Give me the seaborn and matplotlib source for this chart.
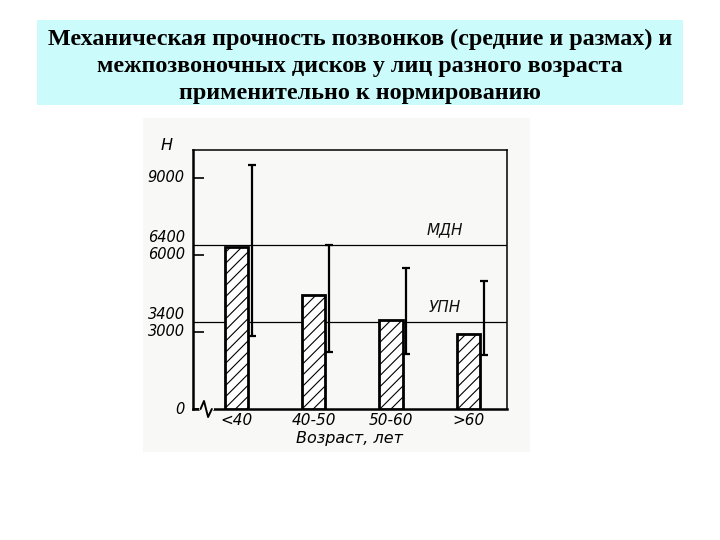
import numpy as np
import pandas as pd
import matplotlib
matplotlib.use("Agg")
import matplotlib.pyplot as plt
import seaborn as sns
from matplotlib.patches import Rectangle

# ---- data ----
title_lines = [
    "Механическая прочность позвонков (средние и размах) и",
    "межпозвоночных дисков у лиц разного возраста",
    "применительно к нормированию",
]
age_groups = ["<40", "40-50", "50-60", ">60"]
mean_strength = [6300, 4450, 3450, 2900]
range_low = [2850, 2200, 2150, 2100]
range_high = [9500, 6400, 5500, 5000]
norm_levels = [6400, 3400]
norm_labels = ["МДН", "УПН"]
y_ticks = [0, 3000, 6000, 9000]
y_extra_ticks = [3400, 6400]
x_label = "Возраст, лет"
y_unit = "Н"

sns.set_theme(style="white")
plt.rcParams["font.family"] = ["DejaVu Sans"]
plt.rcParams["hatch.linewidth"] = 0.8

W, H = 720, 540
fig = plt.figure(figsize=(7.2, 5.4), dpi=100)
fig.patch.set_facecolor("white")

# title box
title_box = Rectangle((37 / W, 1 - 105 / H), (683 - 37) / W, 85 / H,
                      transform=fig.transFigure, facecolor="#ccfbfb",
                      edgecolor="none", zorder=-2)
fig.add_artist(title_box)
fig.text(0.5, 1 - 66 / H, "\n".join(title_lines), ha="center", va="center",
         family="Liberation Serif", weight="bold", fontsize=17.4, linespacing=1.38,
         color="black", zorder=5)

# faint scanned paper area
paper = Rectangle((143 / W, 1 - 452 / H), (530 - 143) / W, (452 - 118) / H,
                  transform=fig.transFigure, facecolor="#f8f8f7",
                  edgecolor="none", zorder=-2)
fig.add_artist(paper)

ax = fig.add_axes([193 / W, 1 - 409 / H, (507 - 193) / W, (409 - 150) / H])
ax.set_zorder(1)
ax.set_facecolor("#f8f8f7")

df = pd.DataFrame({"age": age_groups, "strength": mean_strength})
sns.barplot(data=df, x="age", y="strength", ax=ax, color="white",
            edgecolor="black", linewidth=2, width=0.3, hatch="///",
            errorbar=None, zorder=3)
for p in ax.patches:
    p.set_facecolor("white")
    p.set_edgecolor("black")

pos = np.arange(len(age_groups))
mean = np.array(mean_strength)
low = np.array(range_low)
high = np.array(range_high)
ax.errorbar(pos + 0.2, mean, yerr=[mean - low, high - mean], fmt="none",
            ecolor="black", elinewidth=1.6, capsize=2.8, capthick=1.6, zorder=4)

for lvl, lab in zip(norm_levels, norm_labels):
    ax.axhline(lvl, color="black", lw=0.9, zorder=2)
    ax.annotate(lab, (2.7, lvl), xytext=(0, 5), textcoords="offset points",
                ha="center", va="bottom", style="italic", fontsize=11, color="#111111")

ax.set_xlim(-0.56, 3.5)
ax.set_ylim(0, 10080)
ax.set_yticks(y_ticks, labels=[str(v) for v in y_ticks])
ax.set_yticks(y_extra_ticks, labels=[str(v) for v in y_extra_ticks], minor=True)
ax.tick_params(axis="y", which="major", direction="in", length=8, width=1.2,
               left=True, pad=6, labelsize=10.5, colors="black")
ax.tick_params(axis="y", which="minor", length=0, pad=6, labelsize=10.5, labelcolor="black")
for lab in ax.get_yticklabels(which="both"):
    lab.set_style("italic")
for lab in ax.get_yticklabels(minor=True):
    lab.set_verticalalignment("bottom")
for lab in ax.get_yticklabels():
    lab.set_verticalalignment("center")
ax.tick_params(axis="x", length=0, pad=3, labelsize=11, labelcolor="black")
for lab in ax.get_xticklabels():
    lab.set_style("italic")

ax.set_xlabel(x_label, style="italic", fontsize=11.5, labelpad=2, color="black")
ax.set_ylabel(y_unit, rotation=0, style="italic", fontsize=11.5, color="black")
ax.yaxis.set_label_coords(-0.083, 0.99)

for side in ["left", "bottom"]:
    ax.spines[side].set_linewidth(1.8)
    ax.spines[side].set_color("black")
for side in ["top", "right"]:
    ax.spines[side].set_linewidth(1.1)
    ax.spines[side].set_color("black")
    ax.spines[side].set_visible(True)

# axis-break mark at the start of the x axis
ax.plot([0.024, 0.06], [0, 0], transform=ax.transAxes, color="#f8f8f7",
        lw=3, clip_on=False, zorder=6)
ax.plot([0.024, 0.035, 0.048, 0.06], [0, 0.031, -0.031, 0], transform=ax.transAxes,
        color="black", lw=1.4, clip_on=False, zorder=7)

fig.savefig("out.png", dpi=100, facecolor="white")
